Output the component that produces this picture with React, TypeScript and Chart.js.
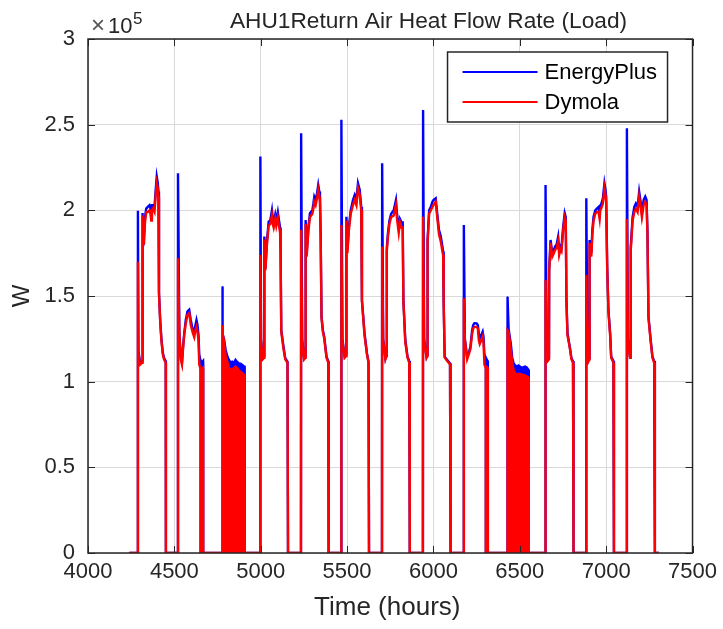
import React, { useEffect, useRef } from "react";
import { Chart, registerables } from "chart.js";

Chart.register(...registerables);

// ---------- data (hours, W) ----------
const hours = [
  4240, 4288, 4289, 4292, 4302, 4313, 4314, 4318, 4324, 4330, 4337, 4346, 4356, 4362, 4366, 4370, 4376, 4385, 4392, 4398, 4404, 4408, 4411, 4418, 4425, 4433, 4440, 4450, 4451,
  4520, 4521, 4529, 4537, 4544, 4550, 4557, 4566, 4576, 4586, 4595, 4605, 4615, 4622, 4628, 4634, 4640, 4644, 4650, 4658, 4666, 4667,
  4777, 4778, 4780, 4787, 4797, 4806, 4816, 4826, 4835, 4845, 4854, 4864, 4873, 4883, 4893, 4902, 4906, 4907,
  4997, 4998, 5002, 5011, 5020, 5021, 5027, 5036, 5046, 5055, 5065, 5070, 5075, 5084, 5090, 5099, 5106, 5112, 5115, 5119, 5132, 5142, 5155, 5158,
  5233, 5234, 5240, 5251, 5259, 5260, 5266, 5276, 5285, 5299, 5305, 5310, 5318, 5326, 5333, 5339, 5343, 5347, 5352, 5360, 5368, 5381, 5391, 5393,
  5466, 5467, 5473, 5486, 5495, 5496, 5502, 5510, 5521, 5534, 5544, 5554, 5563, 5573, 5582, 5586, 5601, 5615, 5624, 5627,
  5702, 5703, 5709, 5722, 5729, 5730, 5736, 5745, 5755, 5770, 5783, 5789, 5799, 5806, 5815, 5822, 5826, 5837, 5850, 5860, 5863,
  5939, 5940, 5946, 5960, 5965, 5966, 5975, 5985, 5994, 6000, 6013, 6020, 6032, 6042, 6052, 6056, 6059, 6065, 6080, 6096, 6099,
  6175, 6176, 6182, 6195, 6205, 6214, 6224, 6230, 6237, 6250, 6257, 6263, 6268, 6276, 6285, 6290, 6295, 6300, 6308, 6314, 6315,
  6428, 6429, 6435, 6448, 6456, 6464, 6473, 6483, 6492, 6502, 6511, 6521, 6531, 6541, 6549, 6552,
  6648, 6649, 6655, 6661, 6669, 6670, 6678, 6688, 6697, 6705, 6713, 6722, 6728, 6735, 6741, 6751, 6760, 6766, 6770, 6776, 6789, 6799, 6808, 6811,
  6884, 6885, 6891, 6898, 6903, 6904, 6914, 6920, 6927, 6937, 6946, 6956, 6962, 6966, 6971, 6981, 6990, 6996, 7000, 7006, 7013, 7023, 7029, 7042, 7045,
  7119, 7120, 7126, 7138, 7142, 7143, 7153, 7163, 7172, 7182, 7191, 7201, 7207, 7217, 7226, 7234, 7239, 7245, 7258, 7268, 7278, 7282, 7306,
];

const energyPlus = [
  0, 0, 199700, 118000, 111000, 112000, 198500, 190000, 185000, 196000, 201000, 202000, 203000, 201000, 196000, 203000, 203000, 202000, 212000, 219700, 216000, 211000, 152000, 136000, 125000, 117000, 114000, 112000, 0,
  0, 221600, 128000, 114000, 111000, 120000, 128000, 136000, 141000, 142000, 136000, 131000, 129000, 133000, 136000, 133000, 127000, 116000, 113000, 111000, 112000, 0,
  0, 155500, 128000, 125000, 118500, 115000, 112700, 111000, 111700, 111000, 112700, 111500, 110700, 110500, 109800, 109000, 108800, 0,
  0, 231400, 125000, 113700, 115000, 184700, 166000, 182000, 193400, 194000, 200000, 195000, 193000, 197500, 194000, 199000, 194000, 190000, 177000, 130000, 120400, 113700, 111700, 0,
  0, 245000, 125000, 113700, 115000, 194400, 175000, 190000, 198300, 200000, 204000, 208000, 206000, 210000, 214800, 211000, 208000, 186000, 138000, 130000, 126000, 114600, 112000, 0,
  0, 252800, 125000, 114600, 116000, 196300, 177000, 190000, 200000, 206000, 209000, 206000, 215800, 212000, 202000, 147700, 128300, 116600, 111700, 0,
  0, 227500, 125000, 113700, 116000, 178000, 186000, 194000, 198000, 200000, 206000, 198000, 190000, 195000, 193000, 193000, 147700, 124300, 114600, 112000, 0,
  0, 258600, 125000, 114600, 116000, 182700, 200000, 202000, 205000, 206000, 207000, 200000, 188600, 185000, 178800, 176000, 147700, 114600, 112700, 110700, 0,
  0, 191500, 125000, 114600, 117000, 120400, 130000, 133000, 134100, 134000, 133000, 128000, 125300, 127000, 129200, 126000, 116000, 114600, 113000, 112000, 0,
  0, 149600, 131000, 122000, 114000, 110700, 109500, 108800, 109500, 108800, 108000, 108500, 108800, 108200, 107000, 0,
  0, 214800, 125000, 112700, 114000, 165200, 182700, 175000, 177000, 179000, 180000, 184600, 176000, 179000, 178000, 190500, 198300, 196000, 147700, 128300, 120500, 113700, 112000, 0,
  0, 207000, 125000, 112700, 114000, 182700, 175000, 188600, 196300, 200000, 201000, 202000, 198000, 203000, 203500, 207000, 215800, 212000, 208000, 167100, 142000, 128300, 114600, 112000, 0,
  0, 247900, 125000, 114600, 116000, 179000, 196000, 202000, 204000, 202000, 210900, 204000, 198300, 206000, 208000, 206000, 188000, 138000, 124300, 114600, 112000, 0, 0,
];

const dymola = [
  0, 0, 170000, 116000, 110000, 111000, 197000, 188000, 180000, 193000, 199000, 199000, 200000, 198000, 194000, 200000, 201000, 199000, 209000, 216000, 213000, 208000, 151000, 135000, 124000, 116000, 113000, 111000, 0,
  0, 172000, 128000, 113000, 110000, 119000, 127000, 134000, 139000, 140000, 133000, 129000, 126000, 130000, 132000, 129000, 124000, 110000, 108000, 107000, 108000, 0,
  0, 133000, 128000, 124000, 115000, 112000, 108000, 106800, 107500, 107800, 108800, 108000, 106500, 105800, 105000, 104000, 104000, 0,
  0, 174000, 124000, 113000, 114000, 183000, 165000, 180000, 191000, 192000, 197000, 192000, 190000, 195000, 191000, 196000, 191000, 187000, 175000, 129000, 119000, 113000, 111000, 0,
  0, 188600, 124000, 113000, 114000, 192000, 173000, 188000, 196000, 198000, 201000, 205000, 203000, 207000, 212000, 208000, 205000, 184000, 137000, 129000, 125000, 114000, 111000, 0,
  0, 191500, 124000, 114000, 115000, 194000, 175000, 188000, 198000, 203000, 206000, 203000, 213000, 209000, 200000, 147000, 127000, 116000, 111000, 0,
  0, 178800, 124000, 113000, 115000, 176000, 184000, 192000, 196000, 197000, 203000, 195000, 187000, 193000, 190000, 190000, 147000, 123000, 114000, 111000, 0,
  0, 196300, 124000, 114000, 115000, 181000, 198000, 200000, 202000, 203000, 205000, 198000, 186000, 182000, 176000, 174000, 147000, 114000, 112000, 110000, 0,
  0, 148700, 124000, 113000, 116000, 119000, 128000, 131000, 132000, 132000, 131000, 124000, 122000, 124000, 126500, 122400, 110000, 108800, 108800, 108000, 0,
  0, 130000, 129200, 118500, 111000, 106800, 105000, 104000, 104500, 104500, 104000, 104000, 103500, 103000, 102500, 0,
  0, 159400, 124000, 112000, 113000, 164000, 181000, 173000, 175000, 177000, 178000, 182000, 174000, 177000, 176000, 188000, 196000, 194000, 147000, 127000, 120000, 113000, 111000, 0,
  0, 162300, 124000, 112000, 113000, 181000, 173000, 186000, 194000, 198000, 199000, 199000, 195000, 200000, 201000, 204000, 213000, 209000, 205000, 166000, 141000, 127000, 114000, 111000, 0,
  0, 195000, 124000, 114000, 115000, 177000, 194000, 199000, 201000, 199000, 208000, 201000, 196000, 203000, 205000, 203000, 186000, 137000, 123000, 114000, 111000, 0, 0,
];

// hour spans where the signal cycles on/off every step (drawn as solid bands)
const oscillationRanges: [number, number][] = [
  [4644, 4667],
  [4777, 4907],
  [6295, 6315],
  [6428, 6552],
];

const seriesLabels = ["EnergyPlus", "Dymola"];
const seriesColors = ["#0000FF", "#FF0000"];
const titleText = "AHU1Return Air Heat Flow Rate (Load)";
const xAxisLabel = "Time (hours)";
const yAxisLabel = "W";
const xMin = 4000, xMax = 7500, xStep = 500;
const yMin = 0, yMax = 300000, yStep = 50000;
const yExponent = 5;

const FONT = '"Liberation Sans", Arial, Helvetica, sans-serif';
const INK = "#262626";

export default function App() {
  const ref = useRef<HTMLCanvasElement | null>(null);

  useEffect(() => {
    const canvas = ref.current;
    if (!canvas) return;

    const pts = (vals: number[]) => hours.map((h, i) => ({ x: h, y: vals[i] }));
    const band = (vals: number[], r: [number, number]) =>
      pts(vals).filter((p) => p.x >= r[0] && p.x <= r[1]);

    const lineDs = (k: number, vals: number[], order: number) => ({
      label: seriesLabels[k],
      data: pts(vals),
      borderColor: seriesColors[k],
      backgroundColor: seriesColors[k],
      borderWidth: 2.4,
      pointRadius: 0,
      tension: 0,
      fill: false,
      order,
    });
    const bandDs = (k: number, vals: number[], order: number) =>
      oscillationRanges.map((r) => ({
        label: "",
        data: band(vals, r),
        borderColor: seriesColors[k],
        backgroundColor: seriesColors[k],
        borderWidth: 1,
        pointRadius: 0,
        tension: 0,
        fill: "origin",
        order,
      }));

    const decor = {
      id: "decor",
      afterDatasetsDraw(chart: any) {
        const { ctx, chartArea: ca, scales } = chart;
        const x = scales.x, y = scales.y;
        ctx.save();
        // inward ticks
        ctx.strokeStyle = INK;
        ctx.lineWidth = 1;
        const tl = 7;
        ctx.beginPath();
        x.ticks.forEach((t: any) => {
          const px = Math.round(x.getPixelForValue(t.value)) + 0.5;
          ctx.moveTo(px, ca.bottom); ctx.lineTo(px, ca.bottom - tl);
          ctx.moveTo(px, ca.top); ctx.lineTo(px, ca.top + tl);
        });
        y.ticks.forEach((t: any) => {
          const py = Math.round(y.getPixelForValue(t.value)) + 0.5;
          ctx.moveTo(ca.left, py); ctx.lineTo(ca.left + tl, py);
          ctx.moveTo(ca.right, py); ctx.lineTo(ca.right - tl, py);
        });
        ctx.stroke();
        // box
        ctx.lineWidth = 1.5;
        ctx.strokeRect(ca.left, ca.top, ca.right - ca.left, ca.bottom - ca.top);

        // legend
        const lw = 220, lh = 70;
        const lx = ca.right - 25 - lw, ly = ca.top + 13;
        ctx.fillStyle = "#ffffff";
        ctx.fillRect(lx, ly, lw, lh);
        ctx.lineWidth = 1.5;
        ctx.strokeStyle = INK;
        ctx.strokeRect(lx, ly, lw, lh);
        const items = chart.data.datasets.filter((d: any) => d.label);
        ctx.font = `22px ${FONT}`;
        ctx.textBaseline = "middle";
        ctx.textAlign = "left";
        items.forEach((d: any, i: number) => {
          const cy = ly + 20 + i * 30;
          ctx.strokeStyle = d.borderColor;
          ctx.lineWidth = 2;
          ctx.beginPath();
          ctx.moveTo(lx + 15, cy);
          ctx.lineTo(lx + 90, cy);
          ctx.stroke();
          ctx.fillStyle = "#000000";
          ctx.fillText(d.label, lx + 97, cy + 1);
        });
        ctx.restore();
      },
      afterDraw(chart: any) {
        const { ctx, chartArea: ca } = chart;
        ctx.save();
        ctx.fillStyle = INK;
        // title
        ctx.font = `22.7px ${FONT}`;
        ctx.textAlign = "center";
        ctx.textBaseline = "alphabetic";
        ctx.fillText(titleText, 428.5, 27.5);
        // x label
        ctx.font = `26px ${FONT}`;
        ctx.fillText(xAxisLabel, (ca.left + ca.right) / 2 - 3, 615);
        // y label
        ctx.save();
        ctx.translate(22, (ca.top + ca.bottom) / 2);
        ctx.rotate(-Math.PI / 2);
        ctx.font = `24px ${FONT}`;
        ctx.textBaseline = "middle";
        ctx.fillText(yAxisLabel, 0, 0);
        ctx.restore();
        // exponent  (×10^5)
        ctx.textAlign = "left";
        ctx.textBaseline = "alphabetic";
        ctx.fillStyle = "#555555";
        ctx.font = `24px ${FONT}`;
        ctx.fillText("\u00d7", ca.left + 3, 33);
        ctx.fillStyle = INK;
        ctx.font = `22px ${FONT}`;
        ctx.fillText("10", ca.left + 20, 33);
        const w10 = ctx.measureText("10").width;
        ctx.font = `17px ${FONT}`;
        ctx.fillText(String(yExponent), ca.left + 20 + w10 + 0.5, 24);
        ctx.restore();
      },
    };

    const chart = new Chart(canvas, {
      type: "line",
      data: {
        datasets: [
          lineDs(0, energyPlus, 2),
          ...bandDs(0, energyPlus, 2),
          lineDs(1, dymola, 1),
          ...bandDs(1, dymola, 1),
        ] as any,
      },
      options: {
        animation: false,
        responsive: false,
        devicePixelRatio: 1,
        events: [],
        layout: { padding: { top: 39, right: 26, left: 0, bottom: 0 } },
        plugins: {
          legend: { display: false },
          title: { display: false },
          tooltip: { enabled: false },
        },
        scales: {
          x: {
            type: "linear",
            min: xMin,
            max: xMax,
            afterFit: (s: any) => { s.height = 76; },
            afterBuildTicks: (s: any) => {
              const t = [];
              for (let v = xMin; v <= xMax; v += xStep) t.push({ value: v });
              s.ticks = t;
            },
            ticks: {
              color: INK,
              font: { family: FONT, size: 22 },
              padding: 6,
              maxRotation: 0,
              autoSkip: false,
              callback: (v: any) => String(v),
            },
            grid: { color: "#d9d9d9", lineWidth: 1, drawTicks: false },
            border: { display: false },
          },
          y: {
            type: "linear",
            min: yMin,
            max: yMax,
            afterFit: (s: any) => { s.width = 88; },
            afterBuildTicks: (s: any) => {
              const t = [];
              for (let v = yMin; v <= yMax; v += yStep) t.push({ value: v });
              s.ticks = t;
            },
            ticks: {
              color: INK,
              font: { family: FONT, size: 22 },
              padding: 13,
              autoSkip: false,
              callback: (v: any) => String(Number(v) / Math.pow(10, yExponent)),
            },
            grid: { color: "#d9d9d9", lineWidth: 1, drawTicks: false },
            border: { display: false },
          },
        },
      } as any,
      plugins: [decor],
    });

    return () => chart.destroy();
  }, []);

  return (
    <div style={{ position: "absolute", left: 0, top: 0, width: 723, height: 629, background: "#ffffff" }}>
      <canvas ref={ref} width={723} height={629} style={{ display: "block" }} />
    </div>
  );
}
